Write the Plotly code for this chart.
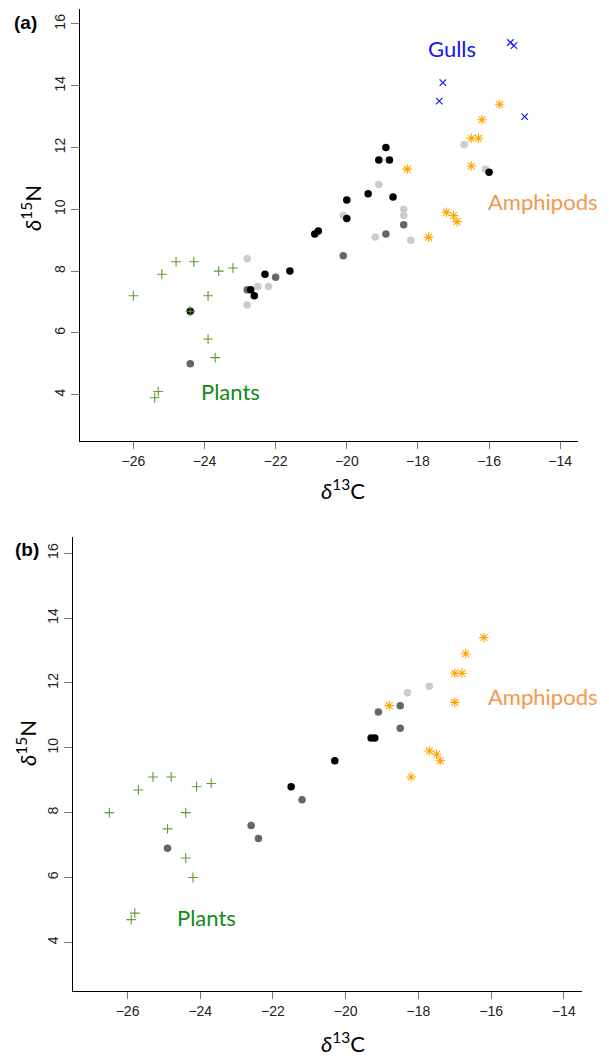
import plotly.graph_objects as go

# ---------------- Panel (a) data ----------------
a_plants_x = [-26.0, -25.2, -24.8, -24.3, -23.6, -23.2, -23.9, -24.4, -23.9, -23.7, -25.3, -25.4]
a_plants_y = [7.2, 7.9, 8.3, 8.3, 8.0, 8.1, 7.2, 6.7, 5.8, 5.2, 4.1, 3.9]

a_black_x = [-22.3, -21.6, -22.7, -22.6, -24.4, -18.9, -19.1, -18.8, -19.4, -18.7, -20.0, -20.0, -20.9, -20.8, -16.0]
a_black_y = [7.9, 8.0, 7.4, 7.2, 6.7, 12.0, 11.6, 11.6, 10.5, 10.4, 10.3, 9.7, 9.2, 9.3, 11.2]

a_dark_x = [-22.0, -22.8, -24.4, -18.4, -18.9, -20.1]
a_dark_y = [7.8, 7.4, 5.0, 9.5, 9.2, 8.5]

a_light_x = [-22.8, -22.5, -22.2, -22.8, -19.1, -20.1, -18.4, -18.4, -19.2, -18.2, -16.7, -16.1]
a_light_y = [8.4, 7.5, 7.5, 6.9, 10.8, 9.8, 10.0, 9.8, 9.1, 9.0, 12.1, 11.3]

a_amph_x = [-15.7, -16.2, -16.5, -16.3, -16.5, -18.3, -17.2, -17.0, -16.9, -17.7]
a_amph_y = [13.4, 12.9, 12.3, 12.3, 11.4, 11.3, 9.9, 9.8, 9.6, 9.1]

a_gull_x = [-15.4, -15.3, -17.3, -17.4, -15.0]
a_gull_y = [15.4, 15.3, 14.1, 13.5, 13.0]

# ---------------- Panel (b) data ----------------
b_plants_x = [-25.7, -25.3, -24.8, -24.1, -23.7, -26.5, -24.4, -24.9, -24.4, -24.2, -25.8, -25.9]
b_plants_y = [8.7, 9.1, 9.1, 8.8, 8.9, 8.0, 8.0, 7.5, 6.6, 6.0, 4.9, 4.7]

b_black_x = [-21.5, -20.3, -19.3, -19.2]
b_black_y = [8.8, 9.6, 10.3, 10.3]

b_dark_x = [-24.9, -22.6, -22.4, -21.2, -19.1, -18.5, -18.5]
b_dark_y = [6.9, 7.6, 7.2, 8.4, 11.1, 11.3, 10.6]

b_light_x = [-18.3, -17.7]
b_light_y = [11.7, 11.9]

b_amph_x = [-16.2, -16.7, -17.0, -16.8, -17.0, -18.8, -17.7, -17.5, -17.4, -18.2]
b_amph_y = [13.4, 12.9, 12.3, 12.3, 11.4, 11.3, 9.9, 9.8, 9.6, 9.1]

x_ticks = [-26, -24, -22, -20, -18, -16, -14]
y_ticks = [4, 6, 8, 10, 12, 14, 16]

# The page body adds an 8px margin, so the figure is 8px smaller and offset.
OFF = 8
W, H = 609 - OFF, 1060 - OFF


def fx(px):
    return (px - OFF) / W


def fy(py):
    return 1 - (py - OFF) / H


C_BLACK, C_DARK, C_LIGHT = "#000000", "#666666", "#cccccc"
C_PLANT, C_AMPH, C_GULL = "#5e9e32", "#ffa500", "#1a1aff"

fig = go.Figure()


def add_panel(xa, ya, light, dark, black, plants, amph, gull=None):
    kw = dict(xaxis=xa, yaxis=ya, mode="markers", showlegend=False, hoverinfo="skip")
    for (xs, ys), c in [(light, C_LIGHT), (dark, C_DARK), (black, C_BLACK)]:
        fig.add_trace(go.Scatter(x=xs, y=ys, marker=dict(symbol="circle", size=7.5, color=c, line=dict(width=0)), **kw))
    fig.add_trace(go.Scatter(x=plants[0], y=plants[1],
                             marker=dict(symbol="cross-thin-open", size=7, color=C_PLANT,
                                         line=dict(width=1.1, color=C_PLANT)), **kw))
    fig.add_trace(go.Scatter(x=amph[0], y=amph[1],
                             marker=dict(symbol="asterisk-open", size=8, color=C_AMPH,
                                         line=dict(width=1.1, color=C_AMPH)), **kw))
    if gull is not None:
        fig.add_trace(go.Scatter(x=gull[0], y=gull[1],
                                 marker=dict(symbol="x-thin-open", size=6.5, color=C_GULL,
                                             line=dict(width=1.2, color=C_GULL)), **kw))


add_panel("x", "y", (a_light_x, a_light_y), (a_dark_x, a_dark_y), (a_black_x, a_black_y),
          (a_plants_x, a_plants_y), (a_amph_x, a_amph_y), (a_gull_x, a_gull_y))
add_panel("x2", "y2", (b_light_x, b_light_y), (b_dark_x, b_dark_y), (b_black_x, b_black_y),
          (b_plants_x, b_plants_y), (b_amph_x, b_amph_y))

tickfont = dict(family="Liberation Sans, Arial", size=14, color="#222222")
axis_common = dict(range=[-27.5, -13.5], tickvals=x_ticks, ticktext=["\u2212" + str(-v) for v in x_ticks],
                   showline=True, linecolor="black", linewidth=1.2, ticks="outside", ticklen=7,
                   tickcolor="#777777", tickwidth=1.2, showgrid=False, zeroline=False, tickfont=tickfont,
                   automargin=False)
yaxis_common = dict(range=[2.5, 16.5], tickvals=y_ticks, showline=True, linecolor="black", linewidth=1.2,
                    ticks="outside", ticklen=8, tickcolor="#777777", tickwidth=1.2, showgrid=False,
                    zeroline=False, tickfont=tickfont, tickangle=-90, automargin=False)

fig.update_layout(
    template="none",
    width=W, height=H, margin=dict(l=0, r=0, t=0, b=0, pad=0),
    paper_bgcolor="white", plot_bgcolor="white",
    xaxis=dict(domain=[fx(80), fx(578)], anchor="y", **axis_common),
    yaxis=dict(domain=[fy(441), fy(8.5)], anchor="x", **yaxis_common),
    xaxis2=dict(domain=[fx(73), fx(582)], anchor="y2", **axis_common),
    yaxis2=dict(domain=[fy(991), fy(537)], anchor="x2", **yaxis_common),
)

lab_font = "Lato, Open Sans, sans-serif"
LS = 22
ann = []
# group labels
ann.append(dict(x=-17.05, y=15.2, xref="x", yref="y", text="Gulls", showarrow=False,
                font=dict(family=lab_font, size=LS, color="#1515ee")))
ann.append(dict(x=-14.5, y=10.26, xref="x", yref="y", text="Amphipods", showarrow=False,
                font=dict(family=lab_font, size=LS, color="#f7964a")))
ann.append(dict(x=-23.28, y=4.11, xref="x", yref="y", text="Plants", showarrow=False,
                font=dict(family=lab_font, size=LS, color="#138a13")))
ann.append(dict(x=-14.58, y=11.57, xref="x2", yref="y2", text="Amphipods", showarrow=False,
                font=dict(family=lab_font, size=LS, color="#f7964a")))
ann.append(dict(x=-23.83, y=4.78, xref="x2", yref="y2", text="Plants", showarrow=False,
                font=dict(family=lab_font, size=LS, color="#138a13")))

# axis titles and panel letters (positions from reference pixels)
title_font = dict(family=lab_font, size=22, color="black")
for (px, py, txt, ang, ya) in [
    (343, 506, "<i>δ</i><sup>13</sup>C", 0, "bottom"),
    (32, 208, "<i>δ</i><sup>15</sup>N", -90, "middle"),
    (343, 1059, "<i>δ</i><sup>13</sup>C", 0, "bottom"),
    (26, 743, "<i>δ</i><sup>15</sup>N", -90, "middle"),
]:
    ann.append(dict(x=fx(px), y=fy(py), xref="paper", yref="paper", text=txt, textangle=ang,
                    showarrow=False, font=title_font, xanchor="center", yanchor=ya))

for (px, py, txt) in [(25, 23, "<b>(a)</b>"), (27, 549, "<b>(b)</b>")]:
    ann.append(dict(x=fx(px), y=fy(py), xref="paper", yref="paper", text=txt, showarrow=False,
                    font=dict(family="Liberation Sans, Arial", size=19, color="black"),
                    xanchor="center", yanchor="middle"))

fig.update_layout(annotations=ann)
fig.write_html("out.html")
